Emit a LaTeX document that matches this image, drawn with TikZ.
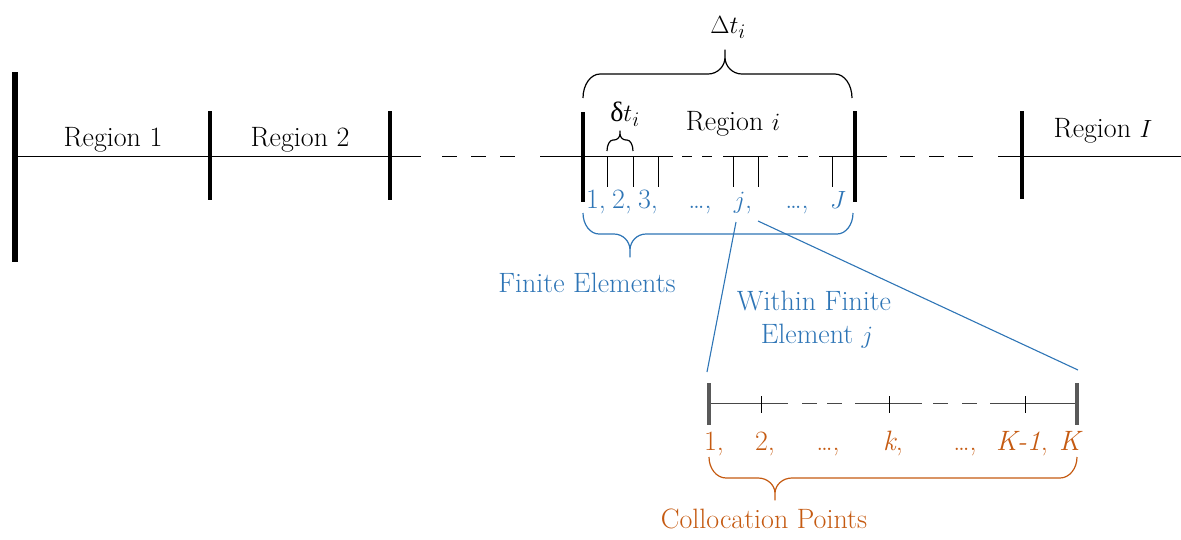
\documentclass[tikz,border=0pt]{standalone}
\usepackage{fontspec}
\newfontfamily\grk{Liberation Serif}
\definecolor{feblue}{HTML}{2E75B6}
\definecolor{cporange}{HTML}{C55A11}
\definecolor{insetgrey}{HTML}{595959}
% #1 x left, #2 x right, #3 x tip, #4 y of ends, #5 y of long part, #6 y of tip, #7 corner radius
\newcommand{\mybrace}[7]{(#1,#4) .. controls (#1,{#4-0.552*(#4-#5)}) and ({#1+0.448*#7},#5) .. ({#1+#7},#5)
 -- ({#3-#7},#5) .. controls ({#3-0.448*#7},#5) and (#3,{#5+0.448*0.7*(#6-#5)}) .. (#3,{#5+0.7*(#6-#5)}) -- (#3,#6)
 -- (#3,{#5+0.7*(#6-#5)}) .. controls (#3,{#5+0.448*0.7*(#6-#5)}) and ({#3+0.448*#7},#5) .. ({#3+#7},#5)
 -- ({#2-#7},#5) .. controls ({#2-0.448*#7},#5) and (#2,{#4-0.552*(#4-#5)}) .. (#2,#4)}
\begin{document}
\begin{tikzpicture}[x=1pt,y=-1pt,
  lbl/.style={anchor=base,inner sep=0pt,font=\fontsize{28}{32}\selectfont},
  thinln/.style={line width=1pt},
  dashln/.style={line width=1pt,dash pattern=on 15pt off 14pt},
  regionbar/.style={line width=3.5pt},
  tickln/.style={line width=0.9pt},
  bracepath/.style={line width=1.2pt,line join=round}]
\useasboundingbox (0,0) rectangle (1181,539);
% main time line
\draw[thinln] (15,156) -- (421,156);
\draw[dashln] (442,156) -- (517,156);
\draw[thinln] (540,156) -- (673,156);
\draw[dashln,dash pattern=on 10pt off 10pt] (682,156) -- (712,156);
\draw[thinln] (723,156) -- (768,156);
\draw[dashln,dash pattern=on 10pt off 10pt] (778,156) -- (808,156);
\draw[thinln] (819,156) -- (887,156);
\draw[dashln] (900,156) -- (973,156);
\draw[thinln] (998,156) -- (1181,156);
% region bars
\draw[line width=6pt] (15,72) -- (15,262);
\draw[regionbar] (210,111) -- (210,200);
\draw[regionbar] (390,111) -- (390,200);
\draw[line width=4pt] (583,112) -- (583,202);
\draw[line width=4pt] (855,111) -- (855,202);
\draw[regionbar] (1022,111) -- (1022,199);
% finite element ticks
\foreach \xx in {607,633,658,733,758,832}
  \draw[tickln] (\xx,157) -- (\xx,187);
% braces
\draw[bracepath] \mybrace{583}{852}{725}{98}{74}{50}{17};
\draw[bracepath] \mybrace{607}{633}{620}{151}{140}{131}{6};
\draw[bracepath,feblue] \mybrace{583}{853}{630}{213}{234}{257}{16};
\draw[bracepath,cporange] \mybrace{709}{1077}{775}{457}{478}{500}{17};
% region labels
\node[lbl] (r1) at (113,146) {Region 1};
\node[lbl] (r2) at (300,146) {Region 2};
\node[lbl] (ri) at (733,130) {Region $i$};
\node[lbl] (rI) at (1103,137) {Region $I$};
\node[lbl] (Dt) at (728,33) {$\Delta t_i$};
\node[lbl] (dt) at (625,121) {{\grk δ}$t_i$};
% finite element labels
\begin{scope}[feblue]
\node[lbl] (f1) at (596,208) {1,};
\node[lbl] (f2) at (622,208) {2,};
\node[lbl] (f3) at (648,208) {3,};
\node[lbl] (fd1) at (700,208) {\ldots,};
\node[lbl] (fj) at (743,208) {$j$,};
\node[lbl] (fd2) at (797,208) {\ldots,};
\node[lbl] (fJ) at (838,208) {$J$};
\node[lbl] (fe) at (587,292) {Finite Elements};
\node[lbl] (w1) at (814,310) {Within Finite};
\node[lbl] (w2) at (817,343) {Element $j$};
\end{scope}
% zoom lines
\coordinate (za) at (736,222);
\coordinate (zb) at (758,221);
\coordinate (zc) at (707,372);
\coordinate (zd) at (1078,370);
\draw[feblue,line width=1.1pt] (za) -- (zc);
\draw[feblue,line width=1.1pt] (zb) -- (zd);
% inset line
\draw[line width=0.9pt,insetgrey!80!black] (709,403) -- (788,403);
\draw[line width=0.9pt,insetgrey!80!black,dash pattern=on 15pt off 10pt] (802,403) -- (842,403);
\draw[line width=0.9pt,insetgrey!80!black] (855,403) -- (922,403);
\draw[line width=0.9pt,insetgrey!80!black,dash pattern=on 15pt off 14pt] (933,403) -- (978,403);
\draw[line width=0.9pt,insetgrey!80!black] (990,403) -- (1077,403);
\draw[line width=3.5pt,insetgrey] (709,383) -- (709,425);
\draw[line width=3.5pt,insetgrey] (1077,383) -- (1077,425);
\foreach \xx in {761,889,1025}
  \draw[tickln] (\xx,396) -- (\xx,413);
% collocation labels
\begin{scope}[cporange]
\node[lbl] (c1) at (714,450) {1,};
\node[lbl] (c2) at (765,450) {2,};
\node[lbl] (cd1) at (828,450) {\ldots,};
\node[lbl] (ck) at (893,450) {\textit{k},};
\node[lbl] (cd2) at (965,450) {\ldots,};
\node[lbl] (cK1) at (1022,450) {\textit{K-1},};
\node[lbl] (cK) at (1071,450) {\textit{K}};
\node[lbl] (cp) at (764,528) {Collocation Points};
\end{scope}
\end{tikzpicture}
\end{document}
